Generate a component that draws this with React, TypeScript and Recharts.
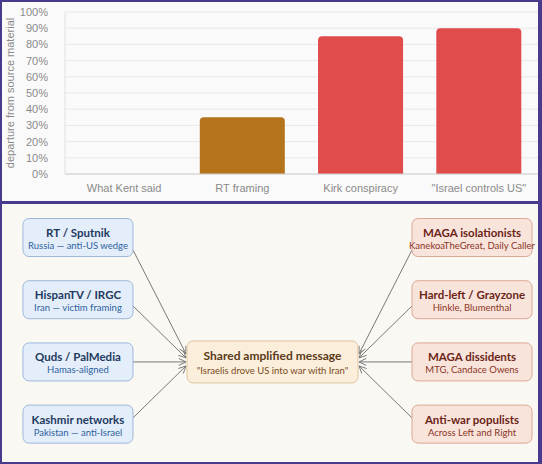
import {
  BarChart,
  Bar,
  Cell,
  XAxis,
  YAxis,
  CartesianGrid,
  ScatterChart,
  Scatter,
  ReferenceLine,
} from "recharts";

// --- bar chart data ---
const categories = ["What Kent said", "RT framing", "Kirk conspiracy", "\"Israel controls US\""];
const departure = [0, 35, 85, 90];
const barColors = ["#b5731b", "#b5731b", "#e04b4b", "#e04b4b"];
const yTicks = [0, 10, 20, 30, 40, 50, 60, 70, 80, 90, 100];

// --- diagram data ---
const sources = [
  { title: "RT / Sputnik", sub: "Russia — anti-US wedge" },
  { title: "HispanTV / IRGC", sub: "Iran — victim framing" },
  { title: "Quds / PalMedia", sub: "Hamas-aligned" },
  { title: "Kashmir networks", sub: "Pakistan — anti-Israel" },
];
const amplifiers = [
  { title: "MAGA isolationists", sub: "KanekoaTheGreat, Daily Caller" },
  { title: "Hard-left / Grayzone", sub: "Hinkle, Blumenthal" },
  { title: "MAGA dissidents", sub: "MTG, Candace Owens" },
  { title: "Anti-war populists", sub: "Across Left and Right" },
];
const hub = { title: "Shared amplified message", sub: "\"Israelis drove US into war with Iran\"" };
const hubRow = 2;

const barData = categories.map((name, i) => ({ name, value: departure[i] }));

const nodes = [
  ...sources.map((s, i) => ({ ...s, side: "left", x: -1, y: i })),
  ...amplifiers.map((s, i) => ({ ...s, side: "right", x: 1, y: i })),
  { ...hub, side: "hub", x: 0, y: hubRow },
];

const styles: Record<string, any> = {
  left: { w: 110, h: 38, fill: "#e4eefa", stroke: "#9db8da", title: "#1e3a60", sub: "#2c5f9e", ts: 11.5, ss: 9.5, ty: -5, sy: 8 },
  right: { w: 120, h: 38, fill: "#f9e4dc", stroke: "#dba796", title: "#6b2517", sub: "#8a3524", ts: 11.5, ss: 9.5, ty: -5, sy: 8 },
  hub: { w: 171, h: 42, fill: "#fbeedb", stroke: "#dfc49e", title: "#5a3a18", sub: "#7a4a1e", ts: 12, ss: 9.5, ty: -6, sy: 9 },
};

const DIAGRAM_FONT = "Lato, 'Noto Sans', sans-serif";

function NodeBox(props: any) {
  const { cx, cy, payload } = props;
  const st = styles[payload.side];
  const left = payload.side === "left" ? cx - st.w : payload.side === "right" ? cx : cx - st.w / 2;
  const mid = left + st.w / 2;
  return (
    <g fontFamily={DIAGRAM_FONT}>
      <rect x={left} y={cy - st.h / 2} width={st.w} height={st.h} rx={6} fill={st.fill} stroke={st.stroke} />
      <text x={mid} y={cy + st.ty} textAnchor="middle" dominantBaseline="central" fontSize={st.ts} fontWeight={700} fill={st.title}>
        {payload.title}
      </text>
      <text x={mid} y={cy + st.sy} textAnchor="middle" dominantBaseline="central" fontSize={st.ss} fill={st.sub}>
        {payload.sub}
      </text>
    </g>
  );
}

function Arrow(props: any) {
  const { x1, y1, x2, y2 } = props;
  const dir = x2 > x1 ? 1 : -1;
  const sx = x1;
  const sy = y1 + (y2 - y1) * 0.1;
  const ex = x2 - dir * (styles.hub.w / 2 + 1);
  const ey = y2 + (y1 - y2) * 0.065;
  const ang = Math.atan2(ey - sy, ex - sx);
  const L = 8;
  const a1 = ang + Math.PI - 0.45;
  const a2 = ang + Math.PI + 0.45;
  const pts = `${ex + L * Math.cos(a1)},${ey + L * Math.sin(a1)} ${ex},${ey} ${ex + L * Math.cos(a2)},${ey + L * Math.sin(a2)}`;
  return (
    <g>
      <line x1={sx} y1={sy} x2={ex} y2={ey} stroke="#7a7a7a" strokeWidth={1} />
      <polyline points={pts} fill="none" stroke="#7a7a7a" strokeWidth={1} />
    </g>
  );
}

export default function App() {
  return (
    <div style={{ position: "absolute", left: 0, top: 0, width: 542, height: 464, background: "#483a8c" }}>
      <div style={{ position: "absolute", left: 2, top: 2, width: 536, height: 199, background: "#fafafa" }}>
        <BarChart
          width={536}
          height={199}
          data={barData}
          margin={{ top: 10, right: 0, bottom: 0, left: 0 }}
          barCategoryGap="14%"
          style={{ fontFamily: "'Liberation Sans', Arial, sans-serif" }}
        >
          <CartesianGrid vertical={false} stroke="#e8e8e8" />
          <XAxis
            dataKey="name"
            height={27}
            interval={0}
            tick={{ fontSize: 11, fill: "#8a8a8a" }}
            tickLine={false}
            tickMargin={4}
            axisLine={{ stroke: "#d0d0d0" }}
          />
          <YAxis
            width={63}
            domain={[0, 100]}
            ticks={yTicks}
            interval={0}
            tickFormatter={(v) => `${v}%`}
            tick={{ fontSize: 11, fill: "#8a8a8a" }}
            tickLine={false}
            tickMargin={11}
            axisLine={{ stroke: "#e0e0e0" }}
            label={{
              value: "departure from source material",
              angle: -90,
              position: "insideLeft",
              offset: 8,
              style: { textAnchor: "middle", fontSize: 11, fill: "#8a8a8a" },
            }}
          />
          <Bar dataKey="value" radius={[4, 4, 0, 0]} isAnimationActive={false}>
            {barData.map((d, i) => (
              <Cell key={d.name} fill={barColors[i]} />
            ))}
          </Bar>
        </BarChart>
      </div>
      <div style={{ position: "absolute", left: 2, top: 204, width: 536, height: 258, background: "#faf8f3" }}>
        <ScatterChart width={536} height={258} margin={{ top: 0, right: 0, bottom: 0, left: 5 }}>
          <XAxis type="number" dataKey="x" domain={[-1.903, 1.903]} hide allowDataOverflow />
          <YAxis type="number" dataKey="y" domain={[-0.539, 3.609]} reversed hide allowDataOverflow />
          {sources.map((s, i) => (
            <ReferenceLine
              key={s.title}
              segment={[{ x: -1, y: i }, { x: 0, y: hubRow }]}
              shape={(p: any) => <Arrow {...p} />}
            />
          ))}
          {amplifiers.map((s, i) => (
            <ReferenceLine
              key={s.title}
              segment={[{ x: 1, y: i }, { x: 0, y: hubRow }]}
              shape={(p: any) => <Arrow {...p} />}
            />
          ))}
          <Scatter data={nodes} isAnimationActive={false} shape={(p: any) => <NodeBox {...p} />} />
        </ScatterChart>
      </div>
    </div>
  );
}
